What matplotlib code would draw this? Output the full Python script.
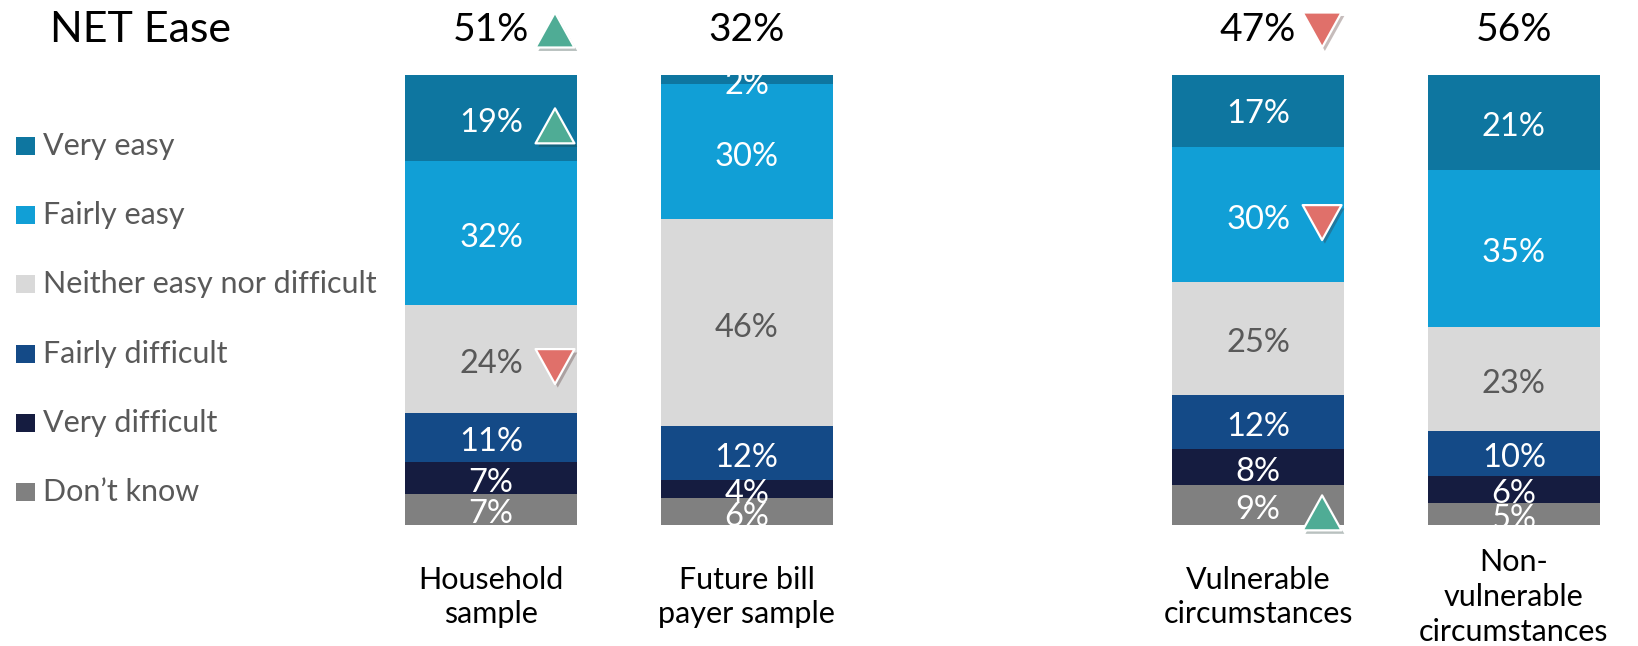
import matplotlib
matplotlib.use("Agg")
import matplotlib.pyplot as plt
from matplotlib.path import Path
from matplotlib.transforms import Bbox, TransformedBbox
import matplotlib.patheffects as pe

plt.rcParams['font.family'] = ['Lato', 'DejaVu Sans']

# answer categories, top of the stack first
categories = ["Very easy", "Fairly easy", "Neither easy nor difficult",
              "Fairly difficult", "Very difficult", "Don\u2019t know"]
colors = ["#0E76A0", "#119FD6", "#D9D9D9", "#144A87", "#151C40", "#808080"]
text_colors = ["white", "white", "#595959", "white", "white", "white"]

groups = ["Household\nsample", "Future bill\npayer sample",
          "Vulnerable\ncircumstances", "Non-\nvulnerable\ncircumstances"]
group_pos = [0, 1, 3, 4]

household = [19, 32, 24, 11, 7, 7]
future_payer = [2, 30, 46, 12, 4, 6]
vulnerable = [17, 30, 25, 12, 8, 9]
non_vulnerable = [21, 35, 23, 10, 6, 5]
series = [household, future_payer, vulnerable, non_vulnerable]

net_ease = [51, 32, 47, 56]

# significance flags: (group index, category index or None for NET, direction)
sig_flags = [(0, None, "up"), (0, 0, "up"), (0, 2, "down"),
             (2, None, "down"), (2, 1, "down"), (2, 5, "up")]

W, H = 1638, 646
fig = plt.figure(figsize=(W / 100, H / 100), dpi=100)
ax = fig.add_axes([0, 0, 1, 1])

# pixel layout: bar centres 491 + 255.7*k, bars from y=525 (0%) to y=75 (100%)
x0, dx = 491, 255.7
ybot, ytop = 525, 75
ppu = (ybot - ytop) / 100.0
ax.set_xlim((0 - x0) / dx, (W - x0) / dx)
ax.set_ylim((ybot - H) / ppu, ybot / ppu)
ax.axis("off")


def px(x, y):
    return (x - x0) / dx, (ybot - y) / ppu


bar_w = 172 / dx
# plot area runs 0..100%, anything outside is cut off
clip = TransformedBbox(Bbox([[-5, 0], [10, 100]]), ax.transData)

up = Path([(-1, -0.9), (1, -0.9), (0, 0.9), (0, 0)],
          [Path.MOVETO, Path.LINETO, Path.LINETO, Path.CLOSEPOLY])
down = Path([(-1, 0.9), (1, 0.9), (0, -0.9), (0, 0)],
            [Path.MOVETO, Path.LINETO, Path.LINETO, Path.CLOSEPOLY])
shadow = [pe.SimplePatchShadow(offset=(2, -2.5), alpha=0.3), pe.Normal()]


def triangle(x, y, direction):
    ax.plot([x], [y], marker=up if direction == "up" else down, ms=28,
            color="#4FAC95" if direction == "up" else "#E0706A",
            mec="white", mew=1.6, ls="none", path_effects=shadow, zorder=5)


seg_mid = {}
for gi, (pos, vals) in enumerate(zip(group_pos, series)):
    bottom = 0
    for ci in reversed(range(len(categories))):
        v = vals[ci]
        bars = ax.bar(pos, v, bottom=bottom, width=bar_w, color=colors[ci],
                      linewidth=0, zorder=2)
        for p in bars:
            p.set_clip_box(clip)
        mid = bottom + v / 2
        seg_mid[(gi, ci)] = mid
        t = ax.text(pos, mid - 1.15, f"{v}%", ha="center", va="center",
                    fontsize=23.5, color=text_colors[ci], zorder=3)
        t.set_clip_box(clip)
        t.set_clip_on(True)
        bottom += v
    ax.text(pos, px(0, 30)[1], f"{net_ease[gi]}%", ha="center",
            va="center", fontsize=28, color="black")
    ax.text(pos, px(0, 597)[1], groups[gi], ha="center", va="center",
            fontsize=22, color="black", linespacing=1.3)

tri_dx = 64 / dx
for gi, ci, d in sig_flags:
    if ci is None:
        y = px(0, 30)[1]
    else:
        y = seg_mid[(gi, ci)] - 1.8
    triangle(group_pos[gi] + tri_dx, y, d)

ax.text(*px(50, 30), "NET Ease", ha="left", va="center", fontsize=31,
        color="black")

# legend on the left
for i, (name, c) in enumerate(zip(categories, colors)):
    yy = 146 + 69.2 * i
    ax.add_patch(plt.Rectangle(px(16, yy + 9), 19 / dx, 18 / ppu,
                               color=c, linewidth=0))
    ax.text(*px(43, yy), name, ha="left", va="center", fontsize=22,
            color="#595959")

fig.savefig("out.png", dpi=100)
